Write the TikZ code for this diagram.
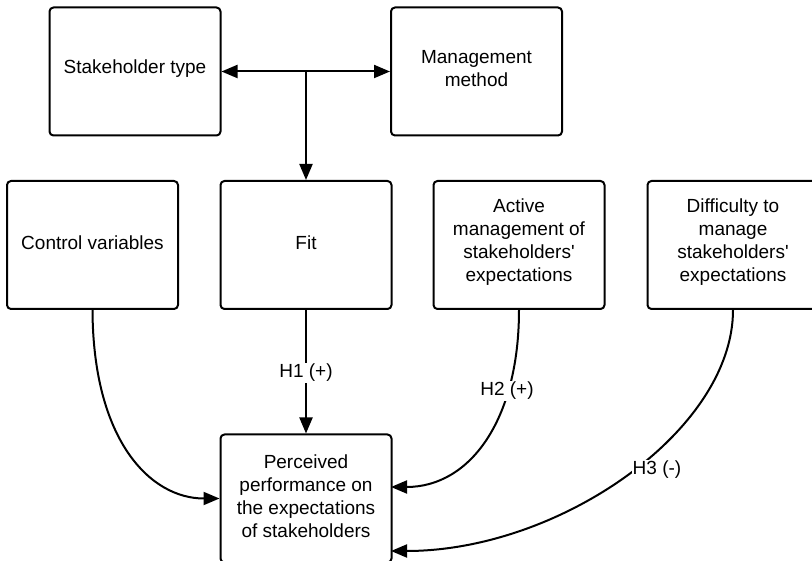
\documentclass[tikz,border=0pt]{standalone}
\usepackage{fontspec}
\setmainfont{Liberation Sans}
\usetikzlibrary{arrows.meta}

\tikzset{
  box/.style={draw, line width=2pt, rounded corners=4pt, minimum width=171pt,
              minimum height=128pt, inner sep=0pt},
  txt/.style={align=center, inner sep=0pt, yshift=2.5pt,
              font=\fontsize{19pt}{23pt}\selectfont},
  link/.style={line width=2pt, -{Triangle[length=16pt,width=13pt]}},
  lbl/.style={fill=white, inner sep=1pt, font=\fontsize{19pt}{23pt}\selectfont}
}

\begin{document}
\begin{tikzpicture}[x=1pt,y=-1pt]
  \useasboundingbox (0,0) rectangle (812,561);

  % upper row
  \node[box, label={[txt]center:{Stakeholder type}}] (st) at (135,71.5) {};
  \node[box, label={[txt]center:{Management\\method}}] (mm) at (476.5,71.5) {};

  % middle row
  \node[box, label={[txt]center:{Control variables}}] (cv) at (92.5,245) {};
  \node[box, label={[txt]center:{Fit}}] (fit) at (306,245) {};
  \node[box, label={[txt]center:{Active\\management of\\stakeholders\textquotesingle\\expectations}}] (am) at (519,245) {};
  \node[box, label={[txt]center:{Difficulty to\\manage\\stakeholders\textquotesingle\\expectations}}] (dm) at (733,245) {};

  % outcome
  \node[box, label={[txt]center:{Perceived\\performance on\\the expectations\\of stakeholders}}] (pp) at (306,498.5) {};

  % interaction of type and method
  \coordinate (j) at (306,71.5);
  \draw[link] (j) -- (st.east);
  \draw[link] (j) -- (mm.west);
  \draw[link] (j) -- (fit.north);

  % effects on perceived performance
  \draw[link] (cv.south) .. controls (93,440) and (150,498.5) .. (pp.west);
  \draw[link] (fit.south) -- (pp.north);
  \draw[link] (am.south) .. controls (519,420) and (470,487) .. (391,487);
  \draw[link] (dm.south) .. controls (733,430) and (560,551) .. (391,551);

  % hypothesis labels
  \node[lbl] (h1) at (306,373) {H1 (+)};
  \node[lbl] (h2) at (507,391) {H2 (+)};
  \node[lbl] (h3) at (657,470) {H3 (-)};
\end{tikzpicture}
\end{document}
